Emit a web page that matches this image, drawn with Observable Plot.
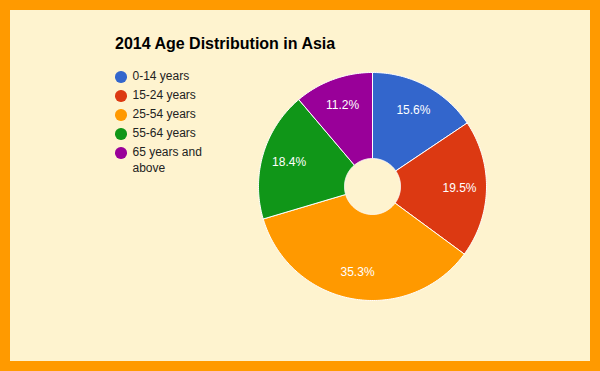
<!DOCTYPE html>
<html>
<head>
<meta charset="utf-8">
<script src="https://cdn.jsdelivr.net/npm/d3@7"></script>
<script src="https://cdn.jsdelivr.net/npm/@observablehq/plot@0.6"></script>
<style>
  html, body { margin: 0; padding: 0; }
  body { width: 600px; height: 371px; overflow: hidden; font-family: "Liberation Sans", Arial, sans-serif; }
  #frame { position: relative; width: 600px; height: 371px; background: #FF9A00; }
  #inner { position: absolute; left: 10px; top: 10px; width: 580px; height: 351px; background: #FEF3CF; }
  #title { position: absolute; left: 115px; top: 34px; font-size: 16px; font-weight: bold; color: #000; white-space: nowrap; line-height: 20px; }
  #legend { position: absolute; left: 115px; top: 69px; }
  .row { display: flex; align-items: flex-start; margin-bottom: 3.5px; }
  .dot { width: 11.5px; height: 11.5px; border-radius: 50%; margin-top: 2px; flex: none; }
  .lab { margin-left: 6px; font-size: 12px; line-height: 15.5px; color: #222; width: 80px; }
  #pie { position: absolute; left: 252px; top: 66px; }
</style>
</head>
<body>
<div id="frame">
  <div id="inner"></div>
  <div id="title"></div>
  <div id="legend"></div>
  <div id="pie"></div>
</div>
<script>
const title = "2014 Age Distribution in Asia";
const categories = ["0-14 years", "15-24 years", "25-54 years", "55-64 years", "65 years and above"];
const values = [15.6, 19.5, 35.3, 18.4, 11.2];
const colors = ["#3366CC", "#DC3912", "#FF9900", "#109618", "#990099"];
const labels = ["15.6%", "19.5%", "35.3%", "18.4%", "11.2%"];

document.getElementById("title").textContent = title;
const legend = document.getElementById("legend");
categories.forEach((c, i) => {
  const row = document.createElement("div");
  row.className = "row";
  const dot = document.createElement("div");
  dot.className = "dot";
  dot.style.background = colors[i];
  const lab = document.createElement("div");
  lab.className = "lab";
  lab.textContent = c;
  row.appendChild(dot);
  row.appendChild(lab);
  legend.appendChild(row);
});

const R = 114, r0 = 28, rl = 87;
const total = d3.sum(values);
const arcs = d3.pie().sort(null).value(d => d)(values);
const pts = [];
const cents = [];
arcs.forEach((a, i) => {
  const n = Math.max(8, Math.ceil((a.endAngle - a.startAngle) * 60));
  const seg = [];
  for (let k = 0; k <= n; k++) {
    const t = a.startAngle + (a.endAngle - a.startAngle) * k / n;
    seg.push({cat: categories[i], x: R * Math.sin(t), y: R * Math.cos(t)});
  }
  for (let k = n; k >= 0; k--) {
    const t = a.startAngle + (a.endAngle - a.startAngle) * k / n;
    seg.push({cat: categories[i], x: r0 * Math.sin(t), y: r0 * Math.cos(t)});
  }
  seg.push({...seg[0]});
  pts.push(...seg);
  const m = (a.startAngle + a.endAngle) / 2;
  cents.push({cat: categories[i], label: labels[i], x: rl * Math.sin(m), y: rl * Math.cos(m)});
});

const chart = Plot.plot({
  width: 240,
  height: 240,
  margin: 0,
  style: {background: "transparent", fontFamily: "Liberation Sans, Arial, sans-serif"},
  x: {domain: [-120, 120], axis: null},
  y: {domain: [-120, 120], axis: null},
  color: {domain: categories, range: colors},
  marks: [
    Plot.line(pts, {x: "x", y: "y", z: "cat", fill: "cat", stroke: "white", strokeWidth: 1, curve: "linear"}),
    Plot.text(cents, {x: "x", y: "y", text: "label", fill: "white", fontSize: 12})
  ]
});
document.getElementById("pie").appendChild(chart);
</script>
</body>
</html>
